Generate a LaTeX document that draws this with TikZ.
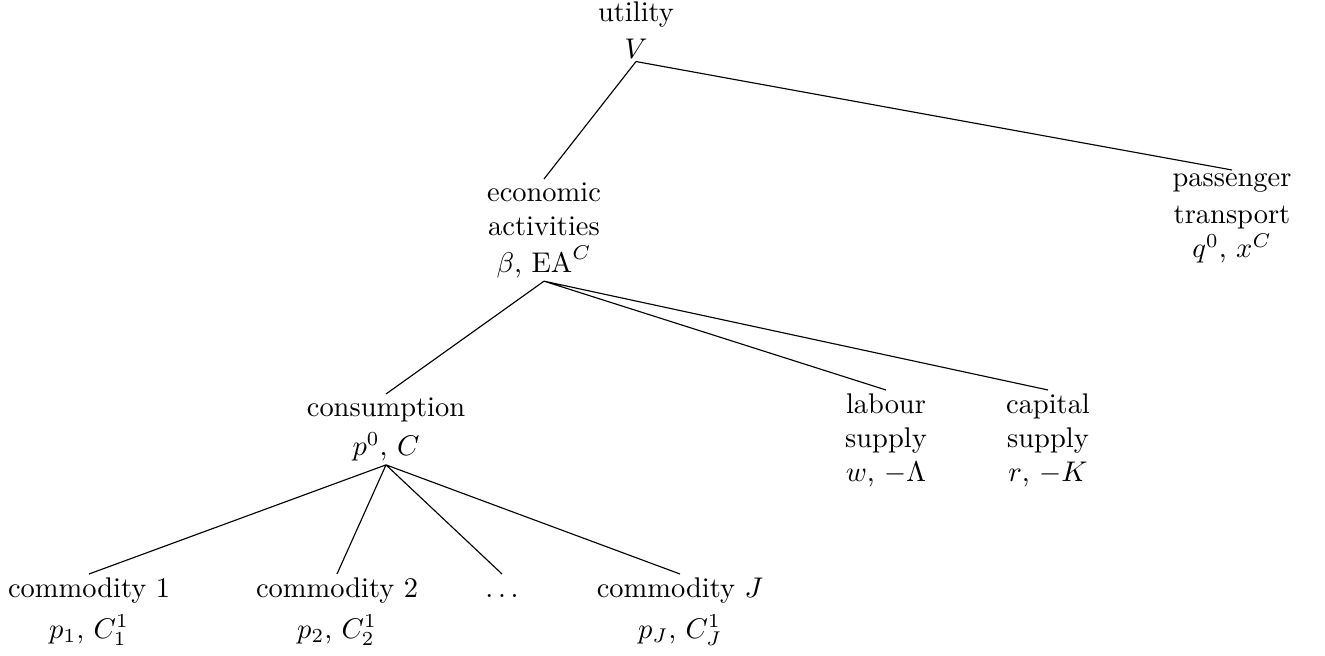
\documentclass[tikz,border=0pt]{standalone}
\usepackage{amsmath}
\usepackage{amssymb}
\usetikzlibrary{positioning}

\begin{document}
\begin{tikzpicture}[x=0.3515pt, y=-0.3515pt,
        every node/.style={align=center, anchor=north, inner sep=1pt}]
        \useasboundingbox (0,0) rectangle (1325,656);
        \node (util) at (636,-2) {utility\\[1pt] $V$};
        \node (econ) at (544,179) {economic\\ activities\\[1pt] $\beta$, $\mathrm{EA}^C$};
        \node (trans) at (1232,170) {passenger\\[1pt] transport\\ $q^0$, $x^C$};
        \node (cons) at (386,394) {consumption\\[2pt] $p^0$, $C$};
        \node (labour) at (886,390) {labour\\ supply\\ $w$, $-\Lambda$};
        \node (capital) at (1048,390) {capital\\ supply\\ $r$, $-K$};
        \node (com1) at (89,574) {commodity 1\\[2.4pt] $p_1$, $C_1^1$};
        \node (com2) at (337,574) {commodity 2\\[2.4pt] $p_2$, $C_2^1$};
        \node (comdots) at (502,574) {$\vphantom{d}\dots$};
        \node (comJ) at (680,574) {commodity $J$\\[2.4pt] $p_J$, $C_J^1$};
        \draw (util.south) -- (econ.north)
            (util.south) -- (trans.north);
        \draw (econ.south) -- (cons.north)
            (econ.south) -- (labour.north)
            (econ.south) -- (capital.north);
        \draw (cons.south) -- (com1.north)
            (cons.south) -- (com2.north)
            (cons.south) -- (comdots.north)
            (cons.south) -- (comJ.north);
    \end{tikzpicture}
\end{document}
